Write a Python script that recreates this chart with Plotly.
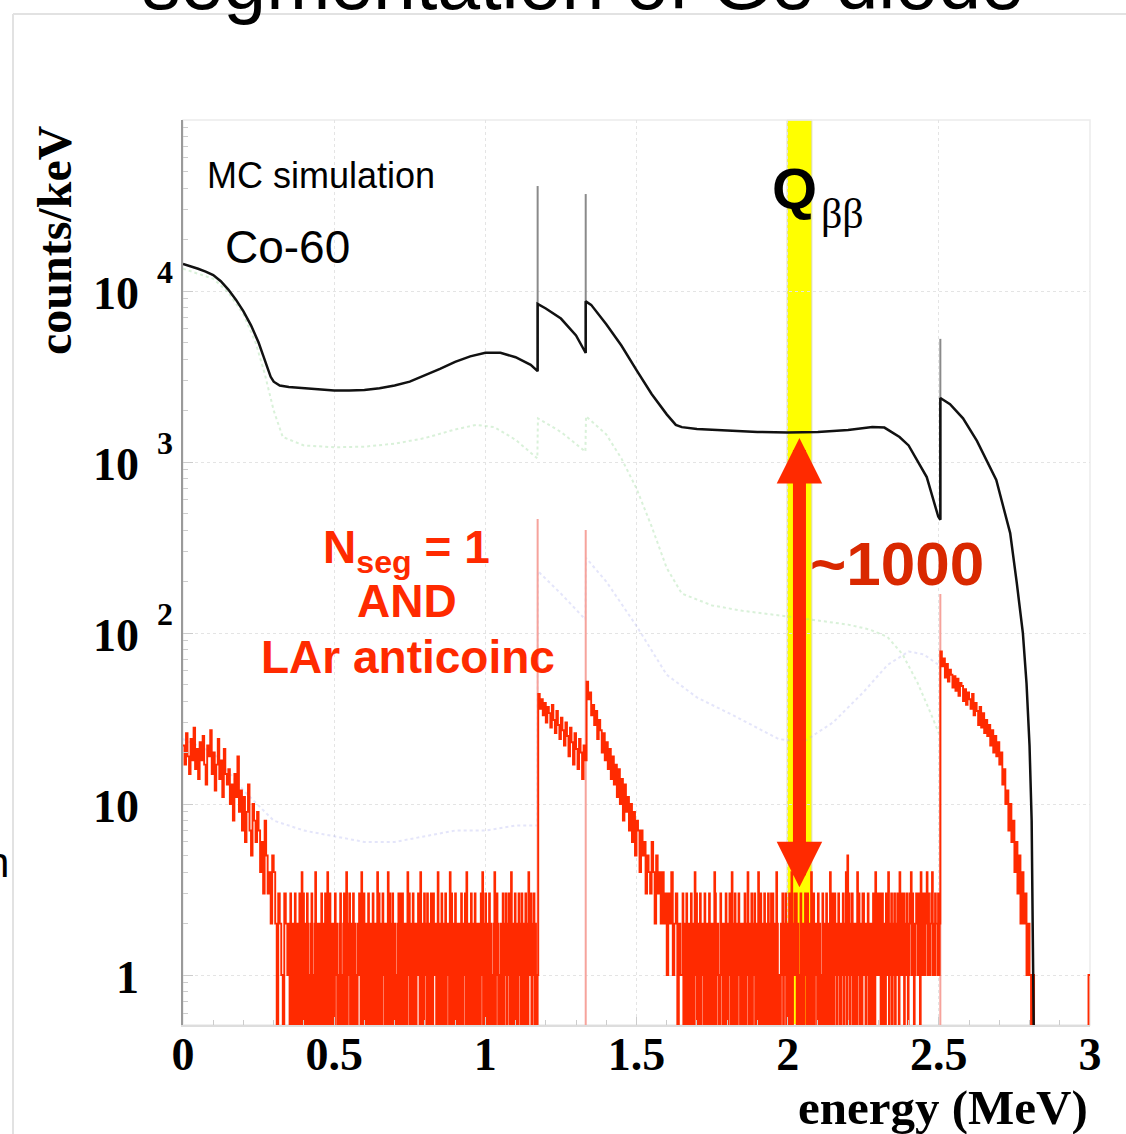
import numpy as np
import plotly.graph_objects as go

# ---------------------------------------------------------------- data
# black: full Co-60 spectrum (counts/keV vs energy in MeV); repeated energies mark steps
black_e = [0.0, 0.025, 0.05, 0.075, 0.1, 0.125, 0.15, 0.175, 0.2, 0.225, 0.25, 0.265, 0.28,
           0.29, 0.3, 0.32, 0.35, 0.4, 0.45, 0.5, 0.55, 0.6, 0.65, 0.7, 0.75, 0.8, 0.85,
           0.9, 0.95, 1.0, 1.05, 1.1, 1.15, 1.173, 1.173, 1.2, 1.25, 1.3, 1.332, 1.332,
           1.35, 1.4, 1.45, 1.5, 1.55, 1.6, 1.63, 1.65, 1.7, 1.8, 1.9, 2.0, 2.1, 2.2,
           2.28, 2.32, 2.37, 2.4, 2.46, 2.498, 2.505, 2.505, 2.537, 2.58, 2.626, 2.69,
           2.736, 2.758, 2.778, 2.79, 2.8, 2.807, 2.812, 2.815]
black_v = [14400, 14000, 13500, 13000, 12400, 11400, 10200, 8900, 7600, 6300, 5000, 4200, 3500,
           3150, 2950, 2800, 2750, 2700, 2650, 2620, 2620, 2640, 2700, 2800, 2950, 3200, 3500,
           3850, 4150, 4350, 4350, 4100, 3700, 3400, 8400, 7900, 6900, 5500, 4340, 8700,
           8300, 6400, 4800, 3450, 2500, 1900, 1650, 1600, 1560, 1530, 1500, 1490, 1500, 1540,
           1600, 1590, 1400, 1250, 817, 480, 460, 2370, 2180, 1800, 1330, 785,
           384, 195, 100, 51, 22, 8, 1.5, 0.3]

# full-energy peaks
peak_e = [1.173, 1.332, 2.505]
black_peak = [41100, 36900, 5250]
red_peak = [465, 400, 169]

# faint intermediate spectra
green_e = [0.0, 0.1, 0.15, 0.2, 0.24, 0.27, 0.3, 0.33, 0.4, 0.5, 0.6, 0.7, 0.8, 0.9, 0.97,
           1.03, 1.1, 1.172, 1.174, 1.25, 1.331, 1.333, 1.4, 1.45, 1.5, 1.55, 1.6, 1.65,
           1.75, 1.85, 2.0, 2.1, 2.2, 2.27, 2.33, 2.38, 2.43, 2.47, 2.5]
green_v = [13500, 11800, 9800, 7300, 5000, 3300, 2000, 1400, 1250, 1220, 1230, 1280, 1380,
           1550, 1650, 1600, 1350, 1050, 1800, 1500, 1150, 1850, 1450, 1050, 700, 420, 240,
           170, 145, 135, 125, 118, 112, 105, 95, 75, 51, 35, 26]
blue_e = [0.0, 0.1, 0.2, 0.3, 0.4, 0.5, 0.6, 0.7, 0.8, 0.9, 1.0, 1.1, 1.172, 1.174, 1.25,
          1.331, 1.333, 1.4, 1.5, 1.6, 1.7, 1.82, 1.97, 2.05, 2.15, 2.25, 2.33, 2.4, 2.45, 2.5]
blue_v = [24, 20, 12, 8, 7, 6.5, 6, 6, 6.5, 7, 7, 7.5, 7.5, 230, 170, 120, 275, 200, 110, 57,
          42, 33, 24, 23, 30, 45, 65, 78, 75, 65]

# red: Nseg = 1 AND LAr anticoincidence
# steep parts in 5 keV bins, the low-count plateaus in 2.5 keV bins (one digit per bin)
red_0_350 = [22, 17, 26, 19, 15, 24, 18, 28, 16, 21,
             14, 23, 18, 25, 17, 13, 22, 19, 27, 15,
             20, 12, 17, 24, 14, 18, 11, 21, 15, 13,
             16, 10, 13, 8, 15, 11, 19, 9, 12, 7,
             11, 6, 9, 13, 7, 5, 10, 8, 6, 9,
             7, 4, 6, 3, 8, 5, 3, 4, 2, 5,
             4, 2, 0, 3, 2, 1, 0, 3, 2, 1]
red_350_1175 = (
    "2031020130 2102301403 0120320102 3010240120 1203021030 2401302012 "
    "0312010230 1023014021 3020130210 0213204103 2012030120 1302102403 "
    "0210312020 1403201302 2010230130 3021020413 0201302102 1320401203 "
    "2103020130 0312102401 2030120302 1204031020 3102012030 0213040120 "
    "2301203102 1020314020 3012030210 0240132010 2103012302 1302401203 "
    "0120321030 2013020412 3021302101")
red_1175_1335 = [44, 36, 41, 33, 39, 30, 37, 34, 28, 38, 31, 26, 35, 29, 24, 32,
                 27, 22, 30, 25, 19, 28, 23, 17, 26, 21, 16, 24, 20, 14, 22, 18]
red_1335_1650 = [52, 41, 45, 33, 38, 29, 35, 24, 31, 27,
                 20, 26, 18, 23, 16, 21, 14, 19, 13, 17,
                 11, 16, 10, 14, 8, 13, 9, 11, 7, 10,
                 6, 9, 5, 8, 7, 4, 7, 5, 6, 3,
                 5, 4, 3, 6, 4, 2, 5, 3, 4, 2,
                 4, 2, 3, 1, 3, 2, 4, 1, 2, 3, 0, 2, 1]
red_1650_2505 = (
    "1302103201 2031020413 0210302120 3102013020 1204301210 0312020130 "
    "2013104201 3020131020 1203021402 0130213020 2401302103 1020310230 "
    "3102042010 0213012302 2030140213 1302010320 2013203102 0410302120 "
    "3021013020 1302104203 2031201320 0213021405 1302130210 2041302103 "
    "3120213020 1203104213 2130230120 3214021302 1302132041 2313021320 "
    "1324132012 3213204213 2132413212 3412132213 12")
red_2505_2820 = [78, 64, 71, 55, 66, 52, 61, 57, 48, 56,
                 46, 54, 43, 51, 49, 40, 47, 38, 45, 41,
                 36, 44, 33, 39, 35, 29, 37, 28, 34, 26,
                 31, 25, 29, 22, 27, 20, 25, 19, 23, 17,
                 20, 13, 16, 10, 12, 7, 10, 6, 8, 4,
                 6, 3, 5, 2, 4, 2, 3, 1, 2, 1, 0, 1, 0]
red_2820_3000 = "0000000000 0000000000 0000000000 000001"


def digits(s):
    return [int(c) for c in s.replace(" ", "")]


# (first bin edge in MeV, bin width in MeV, counts)
red_segments = [
    (0.0, 0.005, red_0_350),
    (0.35, 0.0025, digits(red_350_1175)),
    (1.175, 0.005, red_1175_1335),
    (1.335, 0.005, red_1335_1650),
    (1.65, 0.0025, digits(red_1650_2505)),
    (2.505, 0.005, red_2505_2820),
    (2.82, 0.005, digits(red_2820_3000)),
]

# Q-value of 76Ge double beta decay and the window drawn around it
q_bb = 2.039
q_window = 0.041
arrow_top, arrow_bottom = 1380, 3.2

# y-axis decade labels
y_tick_vals = [1, 10, 100, 1000, 10000]
y_tick_base = ["1", "10", "10", "10", "10"]
y_tick_exp = ["", "", "2", "3", "4"]
x_tick_vals = [0, 0.5, 1, 1.5, 2, 2.5, 3]
x_tick_text = ["0", "0.5", "1", "1.5", "2", "2.5", "3"]

red_x, red_y = [], []
for start, width, counts in red_segments:
    red_x += [start + i * width for i in range(len(counts))]
    red_y += list(counts)
last_start, last_width, last_counts = red_segments[-1]
red_x.append(last_start + len(last_counts) * last_width)
red_y.append(red_y[-1])
red_y = np.array(red_y, dtype=float)
red_y = np.where(red_y > 0, red_y, 0.05)   # empty bins fall below the log axis

# ---------------------------------------------------------------- geometry
W, H = 1126, 1134
PL, PR, PT, PB = 183, 1090, 120, 1025
Y_RANGE = [-0.292, 5.0]


def fx(xp):
    return (xp - PL) / (PR - PL)


def fy(yp):
    return (PB - yp) / (PB - PT)


SANS = "Liberation Sans, Arial, sans-serif"
SERIF = "Liberation Serif, Times New Roman, serif"
RED = "#ff2a00"

fig = go.Figure()

fig.add_trace(go.Scatter(x=green_e, y=green_v, mode="lines", hoverinfo="skip",
                         line=dict(color="rgba(160,220,160,0.4)", width=2, dash="dot")))
fig.add_trace(go.Scatter(x=blue_e, y=blue_v, mode="lines", hoverinfo="skip",
                         line=dict(color="rgba(170,175,240,0.32)", width=2, dash="dot")))

# pink peak lines of the red spectrum
px_, py_ = [], []
for e, h in zip(peak_e, red_peak):
    px_ += [e, e, None]
    py_ += [0.3, h, None]
fig.add_trace(go.Scatter(x=px_, y=py_, mode="lines", hoverinfo="skip",
                         line=dict(color="#f6a39c", width=2)))

fig.add_trace(go.Scatter(x=red_x, y=red_y, mode="lines", line_shape="hv", hoverinfo="skip",
                         line=dict(color=RED, width=1.9)))

# gray peak lines of the full spectrum
bx, by = [], []
be = np.array(black_e)
bv = np.array(black_v)
for e, h in zip(peak_e, black_peak):
    base = bv[np.isclose(be, e)].min()
    bx += [e, e, None]
    by += [base, h, None]
fig.add_trace(go.Scatter(x=bx, y=by, mode="lines", hoverinfo="skip",
                         line=dict(color="#8a8a8a", width=2)))

fig.add_trace(go.Scatter(x=black_e, y=black_v, mode="lines", hoverinfo="skip",
                         line=dict(color="#111111", width=2.5)))

shapes = [
    # Qbb window
    dict(type="rect", xref="x", yref="paper", x0=q_bb - q_window, x1=q_bb + q_window,
         y0=0, y1=1, fillcolor="#ffff00", line=dict(color="#d9d9c0", width=1),
         layer="between"),
    # frame
    dict(type="rect", xref="paper", yref="paper", x0=0, x1=1, y0=0, y1=1,
         line=dict(color="#ececec", width=1.5), layer="below"),
    # slide border
    dict(type="line", xref="paper", yref="paper", x0=fx(13), x1=fx(13), y0=fy(14), y1=fy(1134),
         line=dict(color="#e2e2e2", width=2)),
    dict(type="line", xref="paper", yref="paper", x0=fx(13), x1=fx(1126), y0=fy(14), y1=fy(14),
         line=dict(color="#e2e2e2", width=2)),
]

ann = []


def text(t, xp, yp, size, family=SANS, color="black", xanchor="left", yanchor="middle",
         angle=0):
    ann.append(dict(text=t, x=fx(xp), y=fy(yp), xref="paper", yref="paper",
                    xanchor=xanchor, yanchor=yanchor, showarrow=False, textangle=angle,
                    font=dict(family=family, size=size, color=color)))


text("segmentation of Ge diode", 583, 27, 77, xanchor="center", yanchor="bottom")
text("n", 11, 862, 42, xanchor="right")
text("MC simulation", 205, 176, 36)
text("Co-60", 223, 247, 46)
text("<b>Q</b>", 770, 188, 58)
text("ββ", 819, 214, 42, family=SERIF)
text("<b>N<sub>seg</sub> = 1</b>", 406, 550, 46, color=RED, xanchor="center")
text("<b>AND</b>", 407, 601, 46, color=RED, xanchor="center")
text("<b>LAr anticoinc</b>", 408, 657, 46, color=RED, xanchor="center")
text("<b>~1000</b>", 808, 563, 62, color="#d92800")
text("<b>counts/keV</b>", 54, 240, 48, family=SERIF, xanchor="center", angle=-90)
text("<b>energy (MeV)</b>", 1090, 1107, 49, family=SERIF, xanchor="right")

# decade labels on the y axis
for v, base, ex in zip(y_tick_vals, y_tick_base, y_tick_exp):
    yp = PB - (np.log10(v) - Y_RANGE[0]) / (Y_RANGE[1] - Y_RANGE[0]) * (PB - PT)
    text("<b>%s</b>" % base, 141, yp + 2, 46, family=SERIF, xanchor="right")
    if ex:
        text("<b>%s</b>" % ex, 155, yp - 19, 32, family=SERIF)

# double-headed arrow spanning the suppression
ann.append(dict(x=q_bb, y=np.log10(arrow_top), ax=q_bb, ay=np.log10(arrow_bottom),
                xref="x", yref="y", axref="x", ayref="y", text="", showarrow=True,
                arrowside="end+start", arrowhead=2, startarrowhead=2,
                arrowsize=0.7, startarrowsize=0.7, arrowwidth=13, arrowcolor=RED,
                standoff=0, startstandoff=0))

fig.update_layout(
    width=W, height=H,
    margin=dict(l=PL, r=W - PR, t=PT, b=H - PB),
    paper_bgcolor="white", plot_bgcolor="white",
    showlegend=False,
    shapes=shapes,
    annotations=ann,
    xaxis=dict(range=[0, 3], tickvals=x_tick_vals, ticktext=x_tick_text,
               tickfont=dict(family=SERIF, size=46, color="black", weight="bold"),
               ticks="inside", ticklen=8, tickcolor="#cccccc", ticklabelstandoff=-12,
               minor=dict(dtick=0.1, ticks="inside", ticklen=5, tickcolor="#cccccc"),
               showgrid=True, gridcolor="#e4e4e4", griddash="dot", gridwidth=1,
               showline=True, linecolor="#dddddd", linewidth=1.5, zeroline=False),
    yaxis=dict(type="log", range=Y_RANGE, tickvals=y_tick_vals, showticklabels=False,
               ticks="inside", ticklen=10, tickcolor="#cccccc",
               minor=dict(dtick="D1", ticks="inside", ticklen=5, tickcolor="#cccccc"),
               showgrid=True, gridcolor="#e4e4e4", griddash="dot", gridwidth=1,
               showline=True, linecolor="#9a9a9a", linewidth=2, zeroline=False),
)

fig.write_html("out.html")
